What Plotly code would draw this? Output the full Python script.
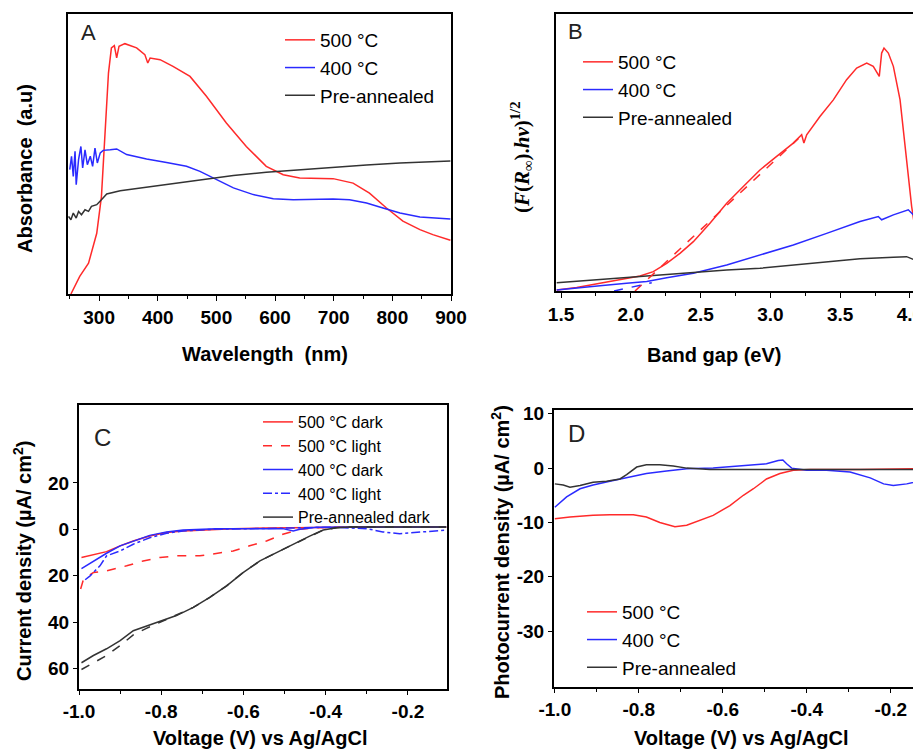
import plotly.graph_objects as go

# ---------------- panel A : absorbance spectra ----------------
wl_500 = [252, 267, 282, 296, 304, 310, 316, 321, 326, 330, 334, 344, 364, 378, 383, 387, 404,
          426, 455, 483, 517, 551, 585, 614, 642, 699, 733, 761, 790, 818, 847, 869, 899]
abs_500 = [0.0, 0.063, 0.110, 0.217, 0.348, 0.575, 0.789, 0.879, 0.887, 0.843, 0.885, 0.894, 0.879,
           0.855, 0.825, 0.843, 0.837, 0.813, 0.777, 0.706, 0.611, 0.527, 0.456, 0.426, 0.414,
           0.412, 0.396, 0.360, 0.307, 0.260, 0.230, 0.212, 0.192]
wl_400 = [250, 253, 256, 259, 261, 265, 269, 272, 276, 280, 285, 289, 293, 297, 302, 307, 319, 330,
          347, 381, 415, 449, 472, 500, 529, 563, 597, 631, 671, 699, 727, 756, 784, 813, 847, 899]
abs_400 = [0.444, 0.492, 0.420, 0.510, 0.390, 0.480, 0.527, 0.450, 0.515, 0.462, 0.492, 0.456,
           0.521, 0.468, 0.504, 0.513, 0.515, 0.518, 0.498, 0.482, 0.470, 0.456, 0.438, 0.408,
           0.379, 0.355, 0.340, 0.337, 0.339, 0.339, 0.337, 0.325, 0.307, 0.289, 0.275, 0.268]
wl_pre = [248, 252, 256, 261, 265, 270, 276, 282, 287, 296, 304, 313, 336, 358, 415, 472, 529,
          585, 642, 699, 756, 813, 899]
abs_pre = [0.277, 0.265, 0.289, 0.271, 0.295, 0.283, 0.301, 0.295, 0.313, 0.319, 0.337, 0.357,
           0.369, 0.375, 0.390, 0.408, 0.423, 0.435, 0.444, 0.452, 0.461, 0.468, 0.475]

# ---------------- panel B : band gap (Kubelka-Munk) ----------------
eg_500 = [1.469, 1.612, 1.779, 1.923, 2.066, 2.161, 2.257, 2.352, 2.448, 2.567, 2.687, 2.806,
          2.925, 3.045, 3.164, 3.224, 3.240, 3.260, 3.355, 3.451, 3.546, 3.618, 3.690, 3.737,
          3.780, 3.797, 3.814, 3.845, 3.881, 3.929, 3.976, 4.012, 4.048, 4.079]
km_500 = [0.004, 0.013, 0.028, 0.040, 0.054, 0.070, 0.100, 0.136, 0.178, 0.245, 0.317, 0.377,
          0.437, 0.486, 0.534, 0.564, 0.534, 0.564, 0.630, 0.690, 0.763, 0.805, 0.823, 0.811,
          0.775, 0.859, 0.877, 0.859, 0.811, 0.690, 0.473, 0.305, 0.184, 0.100]
eg_400 = [1.469, 1.612, 1.779, 1.970, 2.114, 2.257, 2.448, 2.687, 2.925, 3.164, 3.403, 3.642,
          3.773, 3.797, 3.881, 3.988, 4.024, 4.060, 4.079]
km_400 = [0.004, 0.010, 0.019, 0.028, 0.034, 0.048, 0.064, 0.094, 0.130, 0.166, 0.208, 0.251,
          0.269, 0.257, 0.275, 0.293, 0.275, 0.281, 0.269]
eg_pre = [1.469, 1.732, 1.970, 2.209, 2.448, 2.687, 2.925, 3.164, 3.403, 3.642, 3.881, 3.976,
          4.024, 4.079]
km_pre = [0.030, 0.040, 0.049, 0.058, 0.066, 0.076, 0.082, 0.094, 0.106, 0.116, 0.122, 0.124,
          0.114, 0.112]
# linear extrapolations to the energy axis
fit_500_x = [2.03, 3.20]
fit_500_y = [0.0, 0.55]
fit_400_x = [1.88, 2.15]
fit_400_y = [0.0, 0.03]

# ---------------- panel C : dark / light current density ----------------
v_500d = [-0.994, -0.965, -0.933, -0.900, -0.868, -0.828, -0.787, -0.747, -0.706, -0.625, -0.544,
          -0.463, -0.382, -0.301, -0.107]
j_500d = [-12.1, -11.0, -9.6, -7.1, -5.0, -2.9, -1.4, -0.7, -0.3, 0.3, 0.6, 0.7, 1.0, 1.0, 1.0]
v_500l = [-0.996, -0.989, -0.965, -0.933, -0.884, -0.844, -0.803, -0.763, -0.706, -0.666, -0.625,
          -0.585, -0.544, -0.504, -0.463, -0.423, -0.382, -0.107]
j_500l = [-25.7, -21.4, -18.6, -17.9, -15.7, -13.6, -12.1, -11.4, -11.4, -10.4, -9.3, -7.1, -5.0,
          -2.1, 0.0, 0.7, 0.9, 0.9]
v_400d = [-0.994, -0.965, -0.933, -0.900, -0.868, -0.828, -0.787, -0.747, -0.666, -0.585, -0.504,
          -0.479, -0.463, -0.423, -0.301, -0.107]
j_400d = [-16.9, -13.6, -10.3, -7.1, -5.0, -2.6, -1.1, -0.3, 0.3, 0.4, 0.3, -0.7, 0.0, 0.9, 1.0, 1.0]
v_400l = [-0.985, -0.973, -0.949, -0.933, -0.900, -0.868, -0.828, -0.787, -0.747, -0.666, -0.544,
          -0.463, -0.382, -0.301, -0.261, -0.220, -0.180, -0.139, -0.107]
j_400l = [-21.7, -20.0, -15.7, -11.4, -9.3, -6.4, -3.6, -1.7, -0.7, 0.1, 0.4, 0.6, 0.9, 0.3, -1.1,
          -1.9, -1.4, -0.7, -0.3]
v_pred = [-0.994, -0.965, -0.933, -0.900, -0.868, -0.836, -0.803, -0.763, -0.722, -0.682, -0.641,
          -0.601, -0.560, -0.520, -0.479, -0.439, -0.406, -0.374, -0.342, -0.107]
j_pred = [-57.4, -54.3, -51.4, -47.9, -43.6, -41.7, -39.7, -37.1, -33.6, -29.3, -24.3, -18.6,
          -13.6, -10.0, -6.4, -2.9, -0.3, 0.7, 1.0, 1.0]
v_prel = [-0.994, -0.965, -0.933, -0.900, -0.868, -0.836, -0.803, -0.763, -0.722, -0.682, -0.641,
          -0.601, -0.560, -0.520, -0.479, -0.439, -0.406, -0.374, -0.342, -0.107]
j_prel = [-60.3, -57.4, -54.3, -50.0, -45.4, -42.6, -40.0, -37.1, -33.6, -29.3, -24.3, -18.6,
          -13.6, -10.0, -6.4, -2.9, -0.3, 0.7, 1.0, 1.0]

# ---------------- panel D : photocurrent density ----------------
v_d500 = [-1.0, -0.964, -0.909, -0.869, -0.813, -0.782, -0.750, -0.714, -0.686, -0.654, -0.623,
          -0.583, -0.551, -0.527, -0.496, -0.464, -0.432, -0.392, -0.273, -0.128]
p_d500 = [-9.3, -9.0, -8.7, -8.6, -8.6, -9.0, -10.0, -10.8, -10.5, -9.6, -8.7, -6.9, -5.0, -3.8,
          -2.0, -1.0, -0.4, -0.25, -0.25, -0.1]
v_d400 = [-1.0, -0.972, -0.940, -0.909, -0.869, -0.829, -0.782, -0.734, -0.686, -0.623, -0.551,
          -0.496, -0.468, -0.457, -0.448, -0.436, -0.400, -0.353, -0.297, -0.249, -0.217, -0.194,
          -0.162, -0.128]
p_d400 = [-7.2, -5.3, -3.8, -3.1, -2.4, -1.8, -1.0, -0.55, -0.1, 0.0, 0.4, 0.8, 1.4, 1.5, 0.8, 0.0,
          -0.4, -0.4, -0.7, -1.8, -2.9, -3.2, -2.9, -2.3]
v_dpre = [-1.0, -0.980, -0.964, -0.940, -0.909, -0.877, -0.845, -0.829, -0.805, -0.782, -0.750,
          -0.718, -0.686, -0.631, -0.128]
p_dpre = [-2.9, -3.1, -3.5, -3.2, -2.6, -2.4, -2.0, -1.2, 0.2, 0.6, 0.6, 0.4, 0.0, -0.25, -0.25]

RED = "#ff2a2a"
BLUE = "#2a2aff"
BLACK = "#333333"
FONT = "Liberation Sans"
W, H = 921, 751
OFF = 8  # page body margin: the figure sits 8px in from the window corner


def px_x(p):
    return (p - OFF) / W


def px_y(p):
    return 1 - (p - OFF) / H


fig = go.Figure()


def line(x, y, color, name, ax, legend, dash="solid", show=True, width=1.5):
    fig.add_trace(go.Scatter(x=x, y=y, mode="lines", name=name, showlegend=show,
                             legend=legend, line=dict(color=color, width=width, dash=dash),
                             xaxis="x" + ax, yaxis="y" + ax))


# A
line(wl_500, abs_500, RED, "500 \u00b0C", "", "legend")
line(wl_400, abs_400, BLUE, "400 \u00b0C", "", "legend")
line(wl_pre, abs_pre, BLACK, "Pre-annealed", "", "legend")
# B
line(eg_500, km_500, RED, "500 \u00b0C", "2", "legend2")
line(eg_400, km_400, BLUE, "400 \u00b0C", "2", "legend2")
line(eg_pre, km_pre, BLACK, "Pre-annealed", "2", "legend2")
line(fit_500_x, fit_500_y, RED, "fit 500", "2", "legend2", dash="dash", show=False)
line(fit_400_x, fit_400_y, BLUE, "fit 400", "2", "legend2", dash="dash", show=False)
# C
line(v_500d, j_500d, RED, "500 \u00b0C dark", "3", "legend3")
line(v_500l, j_500l, RED, "500 \u00b0C light", "3", "legend3", dash="dash")
line(v_400d, j_400d, BLUE, "400 \u00b0C dark", "3", "legend3")
line(v_400l, j_400l, BLUE, "400 \u00b0C light", "3", "legend3", dash="dashdot")
line(v_pred, j_pred, BLACK, "Pre-annealed dark", "3", "legend3")
line(v_prel, j_prel, BLACK, "Pre-annealed light", "3", "legend3", dash="dash", show=False)
# D
line(v_d500, p_d500, RED, "500 \u00b0C", "4", "legend4")
line(v_d400, p_d400, BLUE, "400 \u00b0C", "4", "legend4")
line(v_dpre, p_dpre, BLACK, "Pre-annealed", "4", "legend4")

tickfont = dict(family=FONT, size=19, color="black", weight="bold")
axis_common = dict(showgrid=False, zeroline=False, showline=True, linecolor="black",
                   linewidth=2, tickfont=tickfont, tickcolor="black", automargin=False)

volt_vals = [-1.0, -0.8, -0.6, -0.4, -0.2]
volt_text = ["-1.0", "-0.8", "-0.6", "-0.4", "-0.2"]
volt_minor = [-0.9, -0.7, -0.5, -0.3, -0.1]

fig.update_layout(
    width=W, height=H, margin=dict(l=0, r=0, t=0, b=0, autoexpand=False),
    paper_bgcolor="white", plot_bgcolor="white",
    xaxis=dict(axis_common, domain=[px_x(68), px_x(451)], range=[247, 900], anchor="y",
               mirror=True, tickmode="linear", tick0=300, dtick=100, ticks="outside",
               ticklen=5, minor=dict(dtick=50, tick0=300, ticks="outside", ticklen=3,
                                     tickcolor="black")),
    yaxis=dict(axis_common, domain=[px_y(294), px_y(14)], range=[0, 1], anchor="x",
               mirror=True, showticklabels=False, ticks=""),
    xaxis2=dict(axis_common, domain=[px_x(556), px_x(921)], range=[1.464, 4.079], anchor="y2",
                mirror=True, tickmode="array", tickvals=[1.5, 2.0, 2.5, 3.0, 3.5, 4.0],
                ticktext=["1.5", "2.0", "2.5", "3.0", "3.5", "4.0"], ticks="outside", ticklen=5,
                minor=dict(tickmode="array", tickvals=[1.75, 2.25, 2.75, 3.25, 3.75],
                           ticks="outside", ticklen=3, tickcolor="black")),
    yaxis2=dict(axis_common, domain=[px_y(291), px_y(14)], range=[0, 1], anchor="x2",
                mirror=False, showticklabels=False, ticks=""),
    xaxis3=dict(axis_common, domain=[px_x(79), px_x(447)], range=[-1.0, -0.105], anchor="y3",
                mirror=True, tickmode="array", tickvals=volt_vals, ticktext=volt_text,
                ticks="outside", ticklen=4,
                minor=dict(tickmode="array", tickvals=volt_minor, ticks="outside", ticklen=3,
                           tickcolor="black")),
    yaxis3=dict(axis_common, domain=[px_y(689), px_y(405)], range=[-68.7, 53.5], anchor="x3",
                mirror=True, tickmode="array", tickvals=[20, 0, -20, -40, -60],
                ticktext=["20", "0", "20", "40", "60"], ticks="outside", ticklen=4),
    xaxis4=dict(axis_common, domain=[px_x(554), px_x(921)], range=[-1.002, -0.128], anchor="y4",
                mirror=True, tickmode="array", tickvals=volt_vals, ticktext=volt_text,
                ticks="outside", ticklen=4,
                minor=dict(tickmode="array", tickvals=volt_minor, ticks="outside", ticklen=3,
                           tickcolor="black")),
    yaxis4=dict(axis_common, domain=[px_y(687), px_y(410)], range=[-40.3, 10.7], anchor="x4",
                mirror=False, tickmode="array", tickvals=[10, 0, -10, -20, -30],
                ticktext=["10", "0", "-10", "-20", "-30"], ticks="outside", ticklen=4),
)

leg_font = dict(family=FONT, size=19, color="black")
leg_common = dict(bgcolor="rgba(0,0,0,0)", xanchor="left", yanchor="top", font=leg_font,
                  tracegroupgap=0)
fig.update_layout(
    legend=dict(leg_common, x=px_x(280), y=px_y(21)),
    legend2=dict(leg_common, x=px_x(578), y=px_y(43)),
    legend3=dict(leg_common, x=px_x(258), y=px_y(405), font=dict(leg_font, size=16)),
    legend4=dict(leg_common, x=px_x(582), y=px_y(593)),
)

title_font = dict(family=FONT, size=20, color="black", weight="bold")
notes = [
    # axis titles
    dict(text="Absorbance  (a.u)", x=px_x(25), y=px_y(169), textangle=-90, font=title_font),
    dict(text="Wavelength  (nm)", x=px_x(265), y=px_y(354), font=title_font),
    dict(text="(<i>F</i>(<i>R</i><sub>\u221e</sub>).<i>hv</i>)<sup>1/2</sup>", x=px_x(522),
         y=px_y(157), textangle=-90,
         font=dict(family="Liberation Serif", size=21, color="black", weight="bold")),
    dict(text="Band gap (eV)", x=px_x(714), y=px_y(355), font=title_font),
    dict(text="Current density (\u00b5A/ cm<sup>2</sup>)", x=px_x(22), y=px_y(561),
         textangle=-90, font=title_font),
    dict(text="Voltage (V) vs Ag/AgCl", x=px_x(260), y=px_y(738), font=title_font),
    dict(text="Photocurrent density (\u00b5A/ cm<sup>2</sup>)", x=px_x(500), y=px_y(552),
         textangle=-90, font=title_font),
    dict(text="Voltage (V) vs Ag/AgCl", x=px_x(741), y=px_y(738), font=title_font),
    # panel letters
    dict(text="A", x=px_x(88), y=px_y(33), font=dict(family=FONT, size=22, color="#222")),
    dict(text="B", x=px_x(575), y=px_y(32), font=dict(family=FONT, size=22, color="#222")),
    dict(text="C", x=px_x(102), y=px_y(437), font=dict(family=FONT, size=24, color="#222")),
    dict(text="D", x=px_x(576), y=px_y(433), font=dict(family=FONT, size=24, color="#222")),
]
for n in notes:
    fig.add_annotation(xref="paper", yref="paper", showarrow=False, xanchor="center",
                       yanchor="middle", **n)

fig.write_html("out.html")
